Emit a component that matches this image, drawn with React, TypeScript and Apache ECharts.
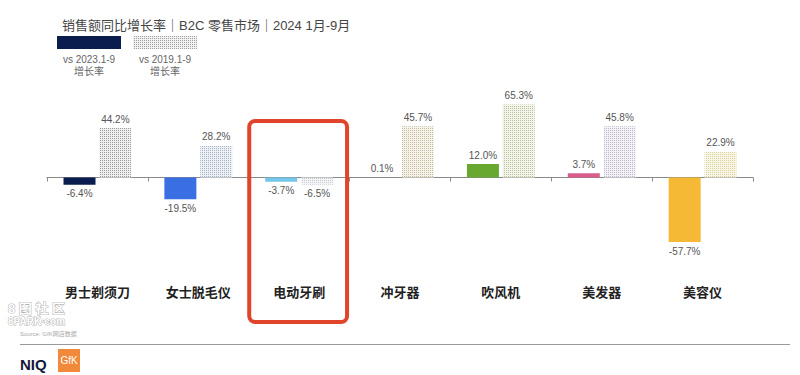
import React, { useEffect, useRef } from 'react';
import * as echarts from 'echarts';

const titleText = '销售额同比增长率｜B2C 零售市场｜2024 1月-9月';
const categories = ['男士剃须刀', '女士脱毛仪', '电动牙刷', '冲牙器', '吹风机', '美发器', '美容仪'];
const vs2023 = [-6.4, -19.5, -3.7, 0.1, 12.0, 3.7, -57.7];
const vs2019 = [44.2, 28.2, -6.5, 45.7, 65.3, 45.8, 22.9];
const seriesNames = ['vs 2023.1-9\n增长率', 'vs 2019.1-9\n增长率'];
const solidColors = ['#0b1d4e', '#3a6fe3', '#74c6ea', '#4fb0ae', '#68a830', '#d95d8c', '#f5b935'];
const dotBase = ['#f0f0f0', '#edf1f5', '#f3f4f6', '#f4f2ea', '#f2f3e9', '#f4f2f6', '#f8f6e6'];
const dotInk = ['#9a9a9a', '#a5b3c4', '#c6ccd4', '#c5bd9c', '#bec2a0', '#bfb8ca', '#dbd09a'];
const highlightIndex = 2;
const sourceText = 'Source: GfK网店数据';

const FONT = "'Liberation Sans', 'Noto Sans CJK SC', sans-serif";

function makeDots(base: string, dot: string) {
  const c = document.createElement('canvas');
  c.width = 2;
  c.height = 2;
  const ctx = c.getContext('2d')!;
  ctx.fillStyle = base;
  ctx.fillRect(0, 0, 2, 2);
  ctx.fillStyle = dot;
  ctx.fillRect(0, 0, 1, 1);
  return { image: c, repeat: 'repeat', imageWidth: 2, imageHeight: 2 } as any;
}

export default function App() {
  const ref = useRef<HTMLDivElement>(null);
  useEffect(() => {
    const chart = echarts.init(ref.current!, undefined, { renderer: 'svg' });
    const fmt = (p: any) => Number(p.value).toFixed(1) + '%';
    chart.setOption({
      animation: false,
      backgroundColor: '#ffffff',
      textStyle: { fontFamily: FONT },
      title: {
        text: titleText,
        left: 57,
        top: 14,
        textStyle: { fontSize: 13, fontWeight: 'normal', color: '#454545', fontFamily: FONT },
      },
      grid: { left: 47, right: 47, top: 88, bottom: 108 },
      xAxis: [
        {
          type: 'category',
          data: categories,
          position: 'bottom',
          axisLine: { show: false, onZero: false },
          axisTick: { show: false },
          axisLabel: { fontSize: 13, fontWeight: 'bold', color: '#222', margin: 19, fontFamily: FONT },
        },
        {
          type: 'category',
          data: categories,
          position: 'top',
          axisLine: { show: true, onZero: true, lineStyle: { color: '#8a8a8a', width: 1 } },
          axisTick: { show: true, inside: true, length: 4, lineStyle: { color: '#8a8a8a' } },
          axisLabel: { show: false },
        },
      ],
      yAxis: {
        type: 'value',
        min: -80,
        max: 80,
        interval: 20,
        axisLine: { show: false },
        axisTick: { show: false },
        axisLabel: { show: false },
        splitLine: { show: false },
      },
      series: [
        {
          type: 'bar',
          name: seriesNames[0],
          xAxisIndex: 0,
          barWidth: 32,
          barGap: '12%',
          label: { show: true, formatter: fmt, fontSize: 10, color: '#555', distance: 4, fontFamily: FONT },
          data: vs2023.map((v, i) => ({
            value: v,
            itemStyle: { color: solidColors[i] },
            label: { position: v < 0 ? 'bottom' : 'top' },
          })),
        },
        {
          type: 'bar',
          name: seriesNames[1],
          xAxisIndex: 0,
          barWidth: 32,
          barGap: '12%',
          label: { show: true, formatter: fmt, fontSize: 10, color: '#555', distance: 4, fontFamily: FONT },
          data: vs2019.map((v, i) => ({
            value: v,
            itemStyle: { color: makeDots(dotBase[i], dotInk[i]) },
            label: { position: v < 0 ? 'bottom' : 'top' },
          })),
        },
      ],
    });

    const cx = chart.convertToPixel({ xAxisIndex: 0 }, categories[highlightIndex]) as number;
    const cw =
      (chart.convertToPixel({ xAxisIndex: 0 }, categories[1]) as number) -
      (chart.convertToPixel({ xAxisIndex: 0 }, categories[0]) as number);
    const boxW = cw * 0.97;

    const legendItems = [
      { x: 57, fill: '#0b1d4e' as any },
      { x: 133, fill: makeDots('#f1f1f1', '#a0a0a0') },
    ];

    chart.setOption({
      graphic: [
        {
          type: 'rect',
          shape: { x: cx - boxW / 2 - 1, y: 121, width: boxW, height: 201, r: 6 },
          style: { fill: 'none', stroke: '#e0452c', lineWidth: 4 },
          z: 10,
        },
        ...legendItems.flatMap((it, i) => [
          {
            type: 'rect',
            shape: { x: it.x, y: 36, width: 64, height: 13 },
            style: { fill: it.fill },
          },
          {
            type: 'text',
            x: it.x + 32,
            y: 53,
            style: {
              text: seriesNames[i],
              fontSize: 10,
              lineHeight: 12,
              fill: '#666',
              align: 'center',
              verticalAlign: 'top',
              fontFamily: FONT,
            },
          },
        ]),
        {
          type: 'text',
          x: 8,
          y: 302,
          style: {
            text: '8 图 社 区',
            fontSize: 13,
            fill: '#ffffff',
            stroke: '#b0b0b0',
            lineWidth: 1,
            fontFamily: FONT,
            fontWeight: 'bold',
          },
        },
        {
          type: 'text',
          x: 8,
          y: 316,
          style: {
            text: '8PARK·com',
            fontSize: 10,
            fill: '#ffffff',
            stroke: '#b0b0b0',
            lineWidth: 1,
            fontFamily: FONT,
            fontWeight: 'bold',
          },
        },
        {
          type: 'text',
          x: 20,
          y: 331,
          style: { text: sourceText, fontSize: 6, fill: '#aaa', fontFamily: FONT },
        },
        {
          type: 'line',
          shape: { x1: 20, y1: 344.5, x2: 790, y2: 344.5 },
          style: { stroke: '#999', lineWidth: 1 },
        },
        {
          type: 'text',
          x: 20,
          y: 357,
          style: { text: 'NIQ', fontSize: 15, fontWeight: 900, fill: '#13173a', fontFamily: FONT },
        },
        {
          type: 'rect',
          shape: { x: 58, y: 349, width: 22, height: 23 },
          style: { fill: '#f08a3a' },
        },
        {
          type: 'text',
          x: 69,
          y: 360.5,
          style: {
            text: 'GfK',
            fontSize: 10,
            fill: '#ffffff',
            align: 'center',
            verticalAlign: 'middle',
            fontFamily: FONT,
          },
        },
      ],
    });

    return () => chart.dispose();
  }, []);
  return <div ref={ref} style={{ position: 'fixed', left: 0, top: 0, width: 800, height: 375 }} />;
}
